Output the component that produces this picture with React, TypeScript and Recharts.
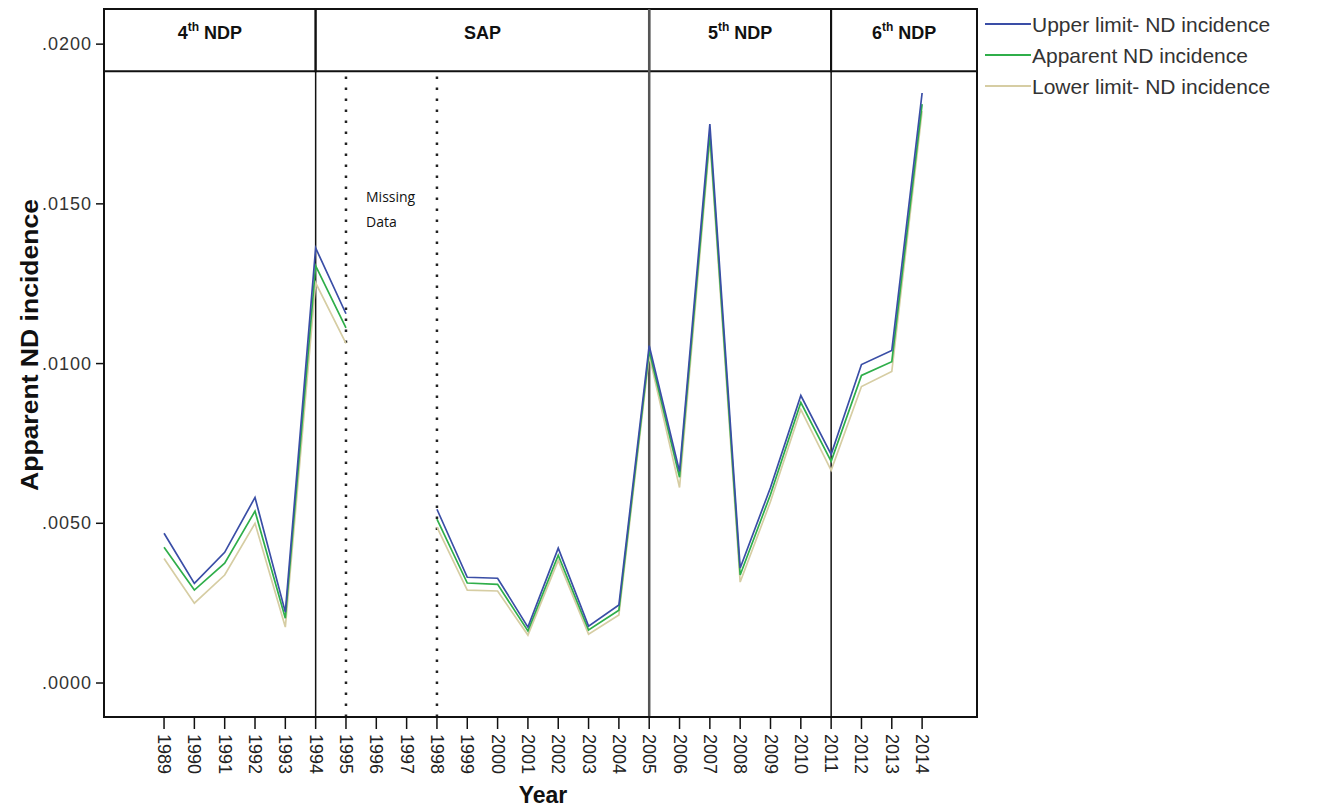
import React from 'react';
import {
  LineChart,
  Line,
  XAxis,
  YAxis,
  ReferenceLine,
  ReferenceArea,
  Customized,
} from 'recharts';

const YEARS = [
  1989, 1990, 1991, 1992, 1993, 1994, 1995, 1996, 1997, 1998, 1999, 2000, 2001,
  2002, 2003, 2004, 2005, 2006, 2007, 2008, 2009, 2010, 2011, 2012, 2013, 2014,
];

const UPPER = [
  0.00469, 0.00312, 0.00409, 0.00581, 0.00222, 0.01362, 0.01156, null, null,
  0.00544, 0.00331, 0.00328, 0.00175, 0.00422, 0.00178, 0.00244, 0.01056,
  0.00662, 0.0175, 0.0036, 0.00612, 0.009, 0.00716, 0.00997, 0.01041, 0.01847,
];

const APPARENT = [
  0.00425, 0.00291, 0.00375, 0.00538, 0.00203, 0.01306, 0.01112, null, null,
  0.00513, 0.00313, 0.00309, 0.00163, 0.004, 0.00166, 0.00228, 0.0104,
  0.00644, 0.01719, 0.00338, 0.0059, 0.00878, 0.00694, 0.00963, 0.01006, 0.01812,
];

const LOWER = [
  0.0039, 0.0025, 0.00338, 0.005, 0.00175, 0.01253, 0.01063, null, null,
  0.00488, 0.00291, 0.00288, 0.0015, 0.00384, 0.00153, 0.00213, 0.01025,
  0.00612, 0.017, 0.00316, 0.00568, 0.00856, 0.00666, 0.00928, 0.00975, 0.0179,
];

const Y_TICKS = [0, 0.005, 0.01, 0.015, 0.02];

const X_MIN = 1987.02;
const X_MAX = 2015.81;
const Y_MIN = -0.001064;
const Y_MAX = 0.0211;
const HEADER_BOTTOM = 0.019155;

const PERIOD_BOUNDARIES = [1994, 2005, 2011];
const MISSING_BOUNDS = [1995, 1998];

const PERIODS = [
  { num: '4', sup: 'th', rest: ' NDP', from: X_MIN, to: 1994 },
  { num: '', sup: '', rest: 'SAP', from: 1994, to: 2005 },
  { num: '5', sup: 'th', rest: ' NDP', from: 2005, to: 2011 },
  { num: '6', sup: 'th', rest: ' NDP', from: 2011, to: X_MAX },
];

const SERIES = [
  { key: 'upper', name: 'Upper limit- ND incidence', color: '#3a4ea6' },
  { key: 'apparent', name: 'Apparent ND incidence', color: '#2fae4a' },
  { key: 'lower', name: 'Lower limit- ND incidence', color: '#d6cda3' },
];

const data = YEARS.map((year, i) => ({
  year,
  upper: UPPER[i],
  apparent: APPARENT[i],
  lower: LOWER[i],
}));

const FONT = 'Arial, "Liberation Sans", sans-serif';

function HeaderLabel(props: any) {
  const { viewBox, num, sup, rest } = props;
  const { x, y, width, height } = viewBox;
  const cx = x + width / 2;
  const cy = y + height / 2;
  return (
    <text
      x={cx}
      y={cy - 1}
      textAnchor="middle"
      fontFamily={FONT}
      fontWeight="bold"
      fontSize={18}
      fill="#111"
    >
      {num}
      {sup ? (
        <tspan dy={-8} fontSize={12}>
          {sup}
        </tspan>
      ) : null}
      <tspan dy={sup ? 8 : 0}>{rest}</tspan>
    </text>
  );
}

function XTick(props: any) {
  const { x, y, payload } = props;
  return (
    <text
      transform={`translate(${x},${y + 3}) rotate(90)`}
      textAnchor="start"
      dominantBaseline="central"
      fontFamily={FONT}
      fontSize={18}
      fill="#222"
    >
      {payload.value}
    </text>
  );
}

function YTick(props: any) {
  const { x, y, payload } = props;
  const label = '.' + Number(payload.value).toFixed(4).slice(2);
  return (
    <text
      x={x - 2}
      y={y}
      textAnchor="end"
      dominantBaseline="central"
      fontFamily={FONT}
      fontSize={18}
      letterSpacing={1}
      fill="#333"
    >
      {label}
    </text>
  );
}

function Overlay() {
  return (
    <g>
      {SERIES.map((s, i) => (
        <g key={s.key}>
          <line x1={977} y1={16 + i * 31} x2={1023} y2={16 + i * 31} stroke={s.color} strokeWidth={2} />
          <text
            x={1024}
            y={16 + i * 31}
            dominantBaseline="central"
            fontFamily={FONT}
            fontSize={21}
            fill="#333"
          >
            {s.name}
          </text>
        </g>
      ))}
      <text
        transform="translate(22,337) rotate(-90)"
        textAnchor="middle"
        dominantBaseline="central"
        fontFamily={FONT}
        fontWeight="bold"
        fontSize={23}
        textLength={292}
        lengthAdjust="spacingAndGlyphs"
        fill="#111"
      >
        Apparent ND incidence
      </text>
      <text
        x={535}
        y={795}
        textAnchor="middle"
        fontFamily={FONT}
        fontWeight="bold"
        fontSize={23}
        fill="#111"
      >
        Year
      </text>
      <text x={358} y={194} fontFamily='"Open Sans", sans-serif' fontSize={14} fill="#111">
        Missing
      </text>
      <text x={358} y={219} fontFamily='"Open Sans", sans-serif' fontSize={14} fill="#111">
        Data
      </text>
    </g>
  );
}

export default function App() {
  return (
    <div style={{ width: 1305, height: 800 }}>
      <LineChart
        width={1305}
        height={800}
        data={data}
        margin={{ top: 1, right: 336, bottom: 0, left: 0 }}
      >
        <XAxis
          dataKey="year"
          type="number"
          domain={[X_MIN, X_MAX]}
          ticks={YEARS}
          interval={0}
          allowDataOverflow
          height={91}
          tickSize={12}
          tick={<XTick />}
          axisLine={{ stroke: '#111', strokeWidth: 2 }}
          tickLine={{ stroke: '#111', strokeWidth: 1.5 }}
        />
        <YAxis
          type="number"
          domain={[Y_MIN, Y_MAX]}
          ticks={Y_TICKS}
          allowDataOverflow
          width={96}
          tickSize={8}
          tick={<YTick />}
          axisLine={{ stroke: '#111', strokeWidth: 2 }}
          tickLine={{ stroke: '#111', strokeWidth: 1.5 }}
        />
        <ReferenceArea
          x1={X_MIN}
          x2={X_MAX}
          y1={Y_MIN}
          y2={Y_MAX}
          fill="none"
          stroke="#111"
          strokeWidth={2}
          ifOverflow="visible"
        />
        {PERIOD_BOUNDARIES.map((b) => (
          <ReferenceLine
            key={b}
            x={b}
            stroke={b === 2005 ? '#555' : '#111'}
            strokeWidth={b === 2005 ? 2.5 : 1.5}
          />
        ))}
        {MISSING_BOUNDS.map((b) => (
          <ReferenceLine
            key={'m' + b}
            segment={[
              { x: b, y: Y_MIN },
              { x: b, y: HEADER_BOTTOM },
            ]}
            stroke="#222"
            strokeWidth={2.5}
            strokeDasharray="2.5 8.5"
          />
        ))}
        {PERIODS.map((p, i) => (
          <ReferenceArea
            key={'p' + i}
            x1={p.from}
            x2={p.to}
            y1={HEADER_BOTTOM}
            y2={Y_MAX}
            fill="#fff"
            fillOpacity={1}
            stroke="#111"
            strokeWidth={2}
            ifOverflow="visible"
            label={<HeaderLabel num={p.num} sup={p.sup} rest={p.rest} />}
          />
        ))}
        {[...SERIES].reverse().map((s) => (
          <Line
            key={s.key}
            type="linear"
            dataKey={s.key}
            name={s.name}
            stroke={s.color}
            strokeWidth={1.7}
            dot={false}
            activeDot={false}
            connectNulls={false}
            isAnimationActive={false}
          />
        ))}
        <Customized component={<Overlay />} />
      </LineChart>
    </div>
  );
}
